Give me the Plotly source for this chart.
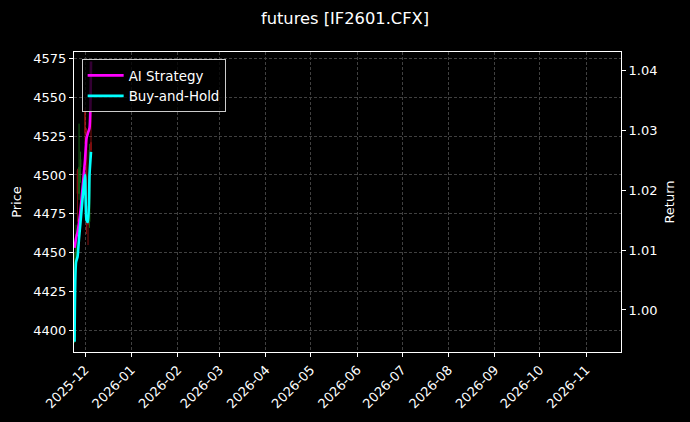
import plotly.graph_objects as go

dates = [
    "2025-11-24", "2025-11-25", "2025-11-26", "2025-11-27", "2025-11-28",
    "2025-12-01", "2025-12-02", "2025-12-03", "2025-12-04", "2025-12-05",
]

open_ = [4396, 4446, 4503, 4488, 4505, 4541, 4527, 4470, 4470, 4521]
high = [4450, 4468, 4504, 4533, 4515, 4543, 4530, 4480, 4520, 4572]
low = [4392, 4440, 4470, 4484, 4495, 4520, 4462, 4455, 4466, 4512]
close = [4446, 4462, 4488, 4505, 4510, 4527, 4470, 4468, 4516, 4516]

ai_strategy = [1.0104, 1.0120, 1.0130, 1.0147, 1.0167, 1.0251, 1.0287, 1.0296, 1.0304, 1.0415]
buy_hold = [0.9947, 1.0080, 1.0089, 1.0120, 1.0147, 1.0226, 1.0150, 1.0147, 1.0226, 1.0264]

month_ticks = [
    "2025-12-01", "2026-01-01", "2026-02-01", "2026-03-01", "2026-04-01", "2026-05-01",
    "2026-06-01", "2026-07-01", "2026-08-01", "2026-09-01", "2026-10-01", "2026-11-01",
]
price_ticks = [4400, 4425, 4450, 4475, 4500, 4525, 4550, 4575]
return_ticks = [1.00, 1.01, 1.02, 1.03, 1.04]

fig = go.Figure()

fig.add_trace(
    go.Candlestick(
        x=dates, open=open_, high=high, low=low, close=close,
        increasing=dict(line=dict(color="#1f8f1f", width=1), fillcolor="#1f8f1f"),
        decreasing=dict(line=dict(color="#c01818", width=1), fillcolor="#c01818"),
        opacity=0.7,
        showlegend=False,
        yaxis="y",
    )
)

fig.add_trace(
    go.Scatter(
        x=dates, y=ai_strategy, name="AI Strategy", mode="lines",
        line=dict(color="#ff00ff", width=2.6, shape="spline", smoothing=0.6),
        yaxis="y2",
    )
)
fig.add_trace(
    go.Scatter(
        x=dates, y=buy_hold, name="Buy-and-Hold", mode="lines",
        line=dict(color="#00ffff", width=2.6, shape="spline", smoothing=0.6),
        yaxis="y2",
    )
)

axis_common = dict(
    showline=True, linecolor="white", linewidth=1.2, mirror=True,
    ticks="outside", ticklen=4, tickcolor="white", tickwidth=1,
    tickfont=dict(size=13, color="white"), zeroline=False,
)
grid = dict(showgrid=True, gridcolor="#404040", griddash="3px,2px", gridwidth=0.7)

fig.update_layout(
    width=690,
    height=422,
    paper_bgcolor="black",
    plot_bgcolor="black",
    font=dict(family="DejaVu Sans", size=13, color="white"),
    margin=dict(l=74, r=69, t=52, b=70),
    title=dict(text="futures [IF2601.CFX]", x=0.5, xanchor="center", y=0.957,
               yanchor="middle", font=dict(size=16.3, color="white")),
    xaxis=dict(
        type="date",
        range=["2025-11-23 15:00", "2026-11-24 09:00"],
        tickvals=month_ticks,
        tickformat="%Y-%m",
        tickangle=-45,
        rangeslider=dict(visible=False),
        **grid,
        **axis_common,
    ),
    yaxis=dict(
        title=dict(text="Price", font=dict(size=13, color="white"), standoff=8),
        range=[4386.3, 4579],
        tickvals=price_ticks,
        **grid,
        **axis_common,
    ),
    yaxis2=dict(
        title=dict(text="Return", font=dict(size=13, color="white"), standoff=8),
        overlaying="y",
        side="right",
        range=[0.99298, 1.0431],
        tickvals=return_ticks,
        tickformat=".2f",
        showgrid=False,
        showline=False,
        ticks="outside", ticklen=4, tickcolor="white",
        tickfont=dict(size=13, color="white"), zeroline=False,
    ),
    legend=dict(
        x=0.014, y=0.976, xanchor="left", yanchor="top",
        bgcolor="rgba(0,0,0,0.8)", bordercolor="#cccccc", borderwidth=1,
        font=dict(size=13.4, color="white"),
        tracegroupgap=0, itemwidth=36,
    ),
    showlegend=True,
)

# drop the default page margin so the figure sits at the window's corner
fig.write_html(
    "out.html",
    config={"displayModeBar": False},
    post_script="document.body.style.margin='0';",
)
